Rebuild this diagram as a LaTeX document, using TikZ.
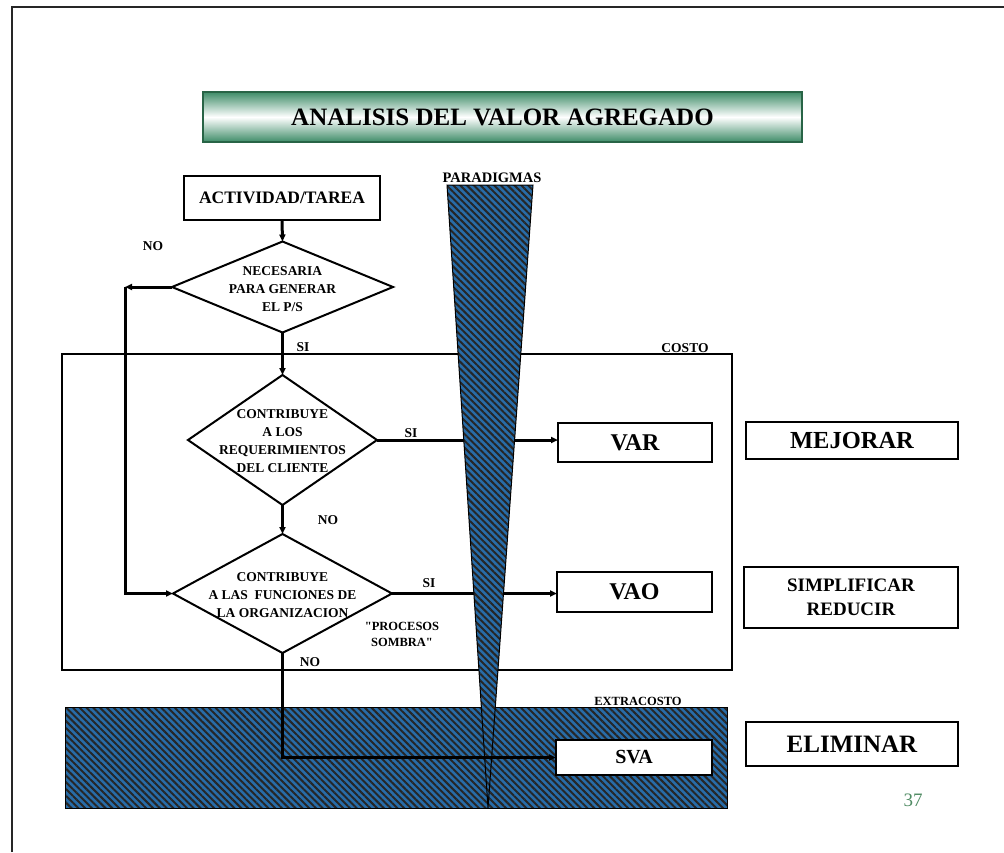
\documentclass[tikz,border=0pt]{standalone}
\usepackage{fontspec}
\setmainfont{Liberation Serif}
\usetikzlibrary{shapes.geometric,arrows.meta,patterns.meta}
\definecolor{tgreen}{RGB}{62,140,104}
\definecolor{tgreendark}{RGB}{40,100,70}
\definecolor{hblue}{RGB}{40,108,168}
\definecolor{pagenum}{RGB}{80,140,100}
\begin{document}
\begin{tikzpicture}[x=1pt,y=-1pt,
  arr/.style={line width=3pt,-{Triangle[length=7pt,width=6pt]}},
  box/.style={draw,line width=1.8pt,inner sep=0,outer sep=0,font=\bfseries},
  dia/.style={draw,diamond,line width=2pt,inner sep=0,outer sep=0},
  dtext/.style={align=center,font=\fontsize{13.5}{18.2}\selectfont\bfseries,inner sep=0},
  lbl/.style={font=\fontsize{13.5}{15}\selectfont\bfseries,inner sep=0},
  hatch/.style={preaction={fill=hblue},pattern={Lines[angle=-45,distance=4.8pt,line width=2pt]},pattern color=black!85,draw=black,line width=1pt}
]
\useasboundingbox (0,0) rectangle (1004,852);
\fill[white] (0,0) rectangle (1004,852);
% frame
\draw[line width=2pt,black!85] (12,852) -- (12,7) -- (1004,7);
% title
\node[draw=tgreendark,line width=1.2pt,top color=tgreen,bottom color=tgreen,middle color=white,
      minimum width=599,minimum height=50,inner sep=0,outer sep=0,
      font=\fontsize{25}{30}\selectfont\bfseries] (title) at (502.5,117) {ANALISIS DEL VALOR AGREGADO};
% cost box
\node[draw,line width=1.8pt,minimum width=670,minimum height=316,inner sep=0,outer sep=0] (costo) at (397,512) {};
\node[lbl,anchor=south] (costolbl) at (685,353) {COSTO};
% extra cost box
\node[hatch,minimum width=662,minimum height=101,inner sep=0,outer sep=0] (extra) at (396,757.5) {};
\node[font=\fontsize{12.5}{15}\selectfont\bfseries,inner sep=0,anchor=south] (extralbl) at (638,706) {EXTRACOSTO};
% flow boxes
\node[box,minimum width=196,minimum height=44,font=\fontsize{17.5}{20}\selectfont\bfseries] (act) at (282,198) {ACTIVIDAD/TAREA};
\node[dia,minimum width=221,minimum height=91] (d1) at (282.5,287) {};
\node[dtext] (t1) at (282.5,289) {NECESARIA\\PARA GENERAR\\EL P/S};
\node[dia,minimum width=189,minimum height=130] (d2) at (282.5,440) {};
\node[dtext] (t2) at (282.5,441) {CONTRIBUYE\\A LOS\\REQUERIMIENTOS\\DEL CLIENTE};
\node[dia,minimum width=219,minimum height=119] (d3) at (282.5,593.5) {};
\node[dtext] (t3) at (282.5,595) {CONTRIBUYE\\A LAS\ \ FUNCIONES DE\\LA ORGANIZACION};
% result boxes
\node[box,minimum width=154,minimum height=39,font=\fontsize{24}{28}\selectfont\bfseries] (var) at (635,442.5) {\raisebox{-5pt}{VAR}};
\node[box,minimum width=155,minimum height=40,font=\fontsize{24}{28}\selectfont\bfseries] (vao) at (634.5,592) {\raisebox{-5pt}{VAO}};
\node[box,fill=white,minimum width=156,minimum height=35,font=\fontsize{20}{24}\selectfont\bfseries] (sva) at (634,757.5) {\raisebox{-6pt}{SVA}};
\node[box,minimum width=212,minimum height=37,font=\fontsize{24.5}{28}\selectfont\bfseries] (mej) at (852,440.5) {\raisebox{-5pt}{MEJORAR}};
\node[box,minimum width=214,minimum height=61,align=center,font=\fontsize{19}{24}\selectfont\bfseries] (simp) at (851,597.5) {\raisebox{-4pt}{SIMPLIFICAR}\\\raisebox{-4pt}{REDUCIR}};
\node[box,minimum width=212,minimum height=44,font=\fontsize{25}{28}\selectfont\bfseries] (elim) at (852,744) {\raisebox{-3pt}{ELIMINAR}};
\node[font=\fontsize{19}{22}\selectfont,text=pagenum,inner sep=0] (pnum) at (913,800) {37};
% connectors
\coordinate (c1) at (125,287);
\coordinate (c2) at (125,593.5);
\draw[arr] (act.south) -- (d1.north);
\draw[arr] (d1.south) -- (d2.north);
\draw[arr] (d2.south) -- (d3.north);
\draw[arr] (d1.west) -- (c1);
\draw[arr] (c1) -- (c2) -- (d3.west);
\draw[arr] (d2.east) -- (d2.east -| var.west);
\draw[arr] (d3.east) -- (d3.east -| vao.west);
% labels
\node[lbl] (no1) at (153,246) {NO};
\node[lbl] (si1) at (303,347) {SI};
\node[lbl] (si2) at (411,433) {SI};
\node[lbl] (no2) at (328,520) {NO};
\node[lbl] (si3) at (429,583) {SI};
\node[lbl] (no3) at (310,662) {NO};
\node[align=center,font=\fontsize{12.5}{16}\selectfont\bfseries,inner sep=0] (sombra) at (402,634) {\textquotedbl PROCESOS\\SOMBRA\textquotedbl};
% paradigm wedge
\path[hatch] (447,185) -- (533,185) -- (488,808) -- cycle;
\node[font=\fontsize{14.5}{17}\selectfont\bfseries,inner sep=0,anchor=south] (parad) at (492,183) {PARADIGMAS};
% eliminate path
\draw[arr] (d3.south) |- (sva.west);
\end{tikzpicture}
\end{document}
